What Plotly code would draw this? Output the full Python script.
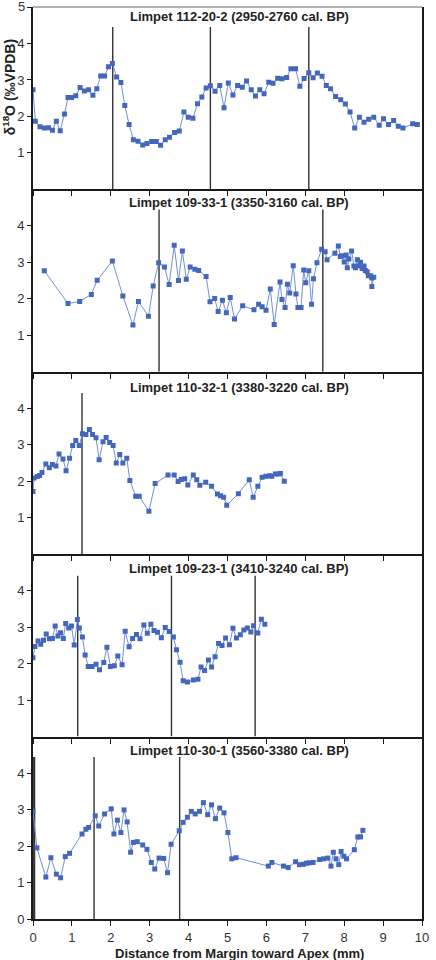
import plotly.graph_objects as go

# ---------------- data ----------------
titles = [
    "Limpet 112-20-2 (2950-2760 cal. BP)",
    "Limpet 109-33-1 (3350-3160 cal. BP)",
    "Limpet 110-32-1 (3380-3220 cal. BP)",
    "Limpet 109-23-1 (3410-3240 cal. BP)",
    "Limpet 110-30-1 (3560-3380 cal. BP)",
]

x1 = [0.0, 0.06, 0.18, 0.29, 0.40, 0.50, 0.60, 0.70, 0.81, 0.90, 0.99, 1.10, 1.21, 1.32, 1.43, 1.54,
      1.64, 1.74, 1.84, 1.94, 2.04, 2.15, 2.26, 2.36, 2.47, 2.58, 2.70, 2.82, 2.93, 3.05, 3.17, 3.28,
      3.40, 3.51, 3.64, 3.76, 3.88, 3.99, 4.11, 4.23, 4.34, 4.45, 4.56, 4.68, 4.80, 4.91, 5.02, 5.14,
      5.26, 5.38, 5.49, 5.61, 5.72, 5.83, 5.94, 6.06, 6.17, 6.29, 6.40, 6.52, 6.63, 6.75, 6.86, 6.97,
      7.09, 7.20, 7.31, 7.43, 7.54, 7.65, 7.78, 7.91, 8.03, 8.15, 8.27, 8.39, 8.51, 8.63, 8.76, 8.90,
      9.01, 9.14, 9.27, 9.39, 9.51, 9.76, 9.88]
y1 = [2.73, 1.87, 1.72, 1.68, 1.69, 1.62, 1.87, 1.61, 2.07, 2.52, 2.52, 2.57, 2.79, 2.70, 2.73, 2.58,
      2.76, 3.11, 3.11, 3.36, 3.45, 3.08, 2.93, 2.30, 1.78, 1.36, 1.32, 1.22, 1.26, 1.31, 1.31, 1.21,
      1.36, 1.43, 1.56, 1.60, 2.12, 1.98, 1.95, 2.35, 2.53, 2.78, 2.84, 2.69, 2.85, 2.24, 2.92, 2.59,
      2.85, 2.80, 2.97, 2.73, 2.56, 2.73, 2.62, 2.94, 2.91, 3.05, 3.03, 3.07, 3.31, 3.31, 2.83, 3.04,
      3.20, 3.06, 3.19, 3.10, 2.85, 2.76, 2.55, 2.46, 2.34, 2.12, 1.68, 1.98, 1.84, 1.92, 1.98, 1.76,
      1.94, 1.78, 1.89, 1.73, 1.68, 1.80, 1.78]

x2 = [0.29, 0.90, 1.20, 1.50, 1.65, 2.04, 2.31, 2.57, 2.71, 2.97, 3.09, 3.23, 3.38, 3.50, 3.63, 3.74,
      3.84, 3.94, 4.04, 4.16, 4.26, 4.45, 4.55, 4.67, 4.76, 4.87, 4.97, 5.07, 5.18, 5.39, 5.68, 5.80,
      5.89, 5.99, 6.10, 6.20, 6.35, 6.40, 6.48, 6.54, 6.60, 6.69, 6.76, 6.81, 6.89, 6.96, 7.01, 7.09,
      7.16, 7.21, 7.30, 7.42, 7.51, 7.56, 7.76, 7.85, 7.90, 7.95, 8.00, 8.05, 8.08, 8.12, 8.19, 8.25,
      8.29, 8.34, 8.37, 8.42, 8.46, 8.51, 8.54, 8.59, 8.62, 8.68, 8.71, 8.71, 8.76]
y2 = [2.77, 1.87, 1.93, 2.12, 2.51, 3.04, 2.08, 1.28, 1.93, 1.52, 2.35, 2.99, 2.87, 2.39, 3.47, 2.50,
      3.31, 2.54, 2.87, 2.81, 2.78, 2.61, 1.92, 2.01, 1.65, 1.96, 1.62, 2.04, 1.45, 1.81, 1.70, 1.85,
      1.78, 1.69, 2.27, 1.30, 2.46, 1.98, 1.76, 2.40, 2.16, 2.91, 2.13, 1.76, 1.76, 2.79, 2.44, 2.77,
      1.85, 2.55, 2.99, 3.36, 3.29, 3.07, 3.25, 3.45, 3.16, 3.18, 3.01, 3.20, 2.85, 3.09, 3.31, 2.90,
      2.85, 3.07, 2.90, 3.00, 2.83, 2.90, 2.78, 2.74, 2.63, 2.63, 2.57, 2.34, 2.59]

x3 = [0.0, 0.03, 0.11, 0.17, 0.23, 0.33, 0.42, 0.50, 0.59, 0.67, 0.77, 0.85, 0.94, 1.02, 1.10, 1.19,
      1.27, 1.36, 1.45, 1.53, 1.62, 1.70, 1.80, 1.88, 1.97, 2.06, 2.14, 2.23, 2.31, 2.41, 2.49, 2.64,
      2.73, 2.98, 3.14, 3.47, 3.63, 3.73, 3.81, 3.90, 3.98, 4.12, 4.21, 4.29, 4.44, 4.59, 4.74, 4.82,
      4.90, 4.98, 5.28, 5.56, 5.66, 5.78, 5.89, 5.99, 6.09, 6.14, 6.23, 6.31, 6.36, 6.46]
y3 = [1.72, 2.09, 2.13, 2.16, 2.24, 2.47, 2.37, 2.46, 2.42, 2.75, 2.61, 2.29, 2.63, 2.98, 3.12, 2.98,
      3.30, 3.28, 3.42, 3.28, 3.19, 2.59, 3.08, 3.20, 3.06, 2.98, 2.50, 2.73, 2.50, 2.63, 2.02, 1.59,
      1.59, 1.18, 1.94, 2.17, 2.17, 1.99, 2.05, 2.07, 1.90, 2.17, 2.04, 1.89, 1.97, 1.86, 1.65, 1.60,
      1.56, 1.34, 1.66, 2.04, 1.56, 1.86, 2.11, 2.14, 2.15, 2.14, 2.20, 2.20, 2.21, 2.00]

x4 = [0.0, 0.05, 0.13, 0.20, 0.27, 0.34, 0.42, 0.50, 0.57, 0.64, 0.71, 0.78, 0.84, 0.92, 0.99, 1.06,
      1.14, 1.19, 1.27, 1.34, 1.42, 1.52, 1.62, 1.71, 1.82, 1.90, 1.99, 2.09, 2.18, 2.29, 2.37, 2.47,
      2.56, 2.66, 2.75, 2.85, 2.94, 3.03, 3.11, 3.20, 3.30, 3.40, 3.50, 3.61, 3.69, 3.78, 3.86, 3.97,
      4.12, 4.24, 4.32, 4.41, 4.51, 4.59, 4.68, 4.77, 4.86, 4.95, 5.05, 5.14, 5.23, 5.33, 5.42, 5.51,
      5.60, 5.67, 5.78, 5.87, 5.96]
y4 = [2.16, 2.47, 2.62, 2.53, 2.64, 2.81, 2.68, 2.69, 3.03, 2.76, 2.85, 2.69, 3.10, 2.98, 3.03, 2.51,
      3.21, 2.98, 2.73, 2.24, 1.92, 1.92, 1.98, 1.83, 2.03, 2.45, 1.92, 1.94, 2.21, 1.97, 2.89, 2.46,
      2.69, 2.80, 2.68, 3.06, 2.83, 3.08, 2.91, 2.86, 2.71, 2.99, 2.88, 2.73, 2.38, 2.04, 1.53, 1.50,
      1.55, 1.57, 1.91, 1.81, 2.10, 1.91, 2.19, 2.55, 2.50, 2.70, 2.52, 2.97, 2.70, 2.79, 2.92, 2.98,
      2.87, 3.04, 2.84, 3.22, 3.08]

x5 = [0.0, 0.10, 0.33, 0.46, 0.60, 0.71, 0.83, 0.94, 1.26, 1.36, 1.43, 1.60, 1.69, 1.84, 2.01, 2.08,
      2.17, 2.26, 2.34, 2.42, 2.51, 2.58, 2.68, 2.82, 2.93, 3.04, 3.13, 3.24, 3.36, 3.46, 3.55, 3.76,
      3.86, 3.97, 4.07, 4.17, 4.28, 4.38, 4.49, 4.59, 4.69, 4.80, 4.91, 5.01, 5.11, 5.22, 6.05, 6.14,
      6.44, 6.56, 6.75, 6.85, 6.95, 7.03, 7.10, 7.20, 7.37, 7.47, 7.58, 7.66, 7.72, 7.79, 7.86, 7.92,
      7.99, 8.06, 8.26, 8.35, 8.42, 8.48]
y5 = [2.95, 1.95, 1.15, 1.68, 1.23, 1.13, 1.71, 1.80, 2.33, 2.46, 2.51, 2.83, 2.55, 2.88, 3.02, 2.33,
      2.71, 2.37, 2.99, 2.66, 1.83, 2.10, 2.12, 2.03, 1.91, 1.55, 1.37, 1.67, 1.66, 1.27, 2.05, 2.42,
      2.65, 2.79, 2.95, 2.88, 2.95, 3.19, 2.86, 3.13, 2.75, 3.04, 2.91, 2.37, 1.65, 1.68, 1.45, 1.55,
      1.45, 1.41, 1.57, 1.49, 1.50, 1.53, 1.54, 1.55, 1.63, 1.65, 1.67, 1.45, 1.83, 1.65, 1.49, 1.85,
      1.72, 1.65, 1.90, 2.25, 2.25, 2.43]

# vertical reference lines (mm) per panel
vlines = [
    [2.05, 4.56, 7.09],
    [3.24, 7.45],
    [1.26],
    [1.15, 3.56, 5.71],
    [0.03, 1.57, 3.77],
]
vline_top = [4.45, 4.45, 4.42, 4.41, 4.44]

y_ticks = [[1, 2, 3, 4, 5], [1, 2, 3, 4], [1, 2, 3, 4], [1, 2, 3, 4], [0, 1, 2, 3, 4]]
x_ticks = list(range(0, 11))
y_max_label = "5"

xs = [x1, x2, x3, x4, x5]
ys = [y1, y2, y3, y4, y5]

# ---------------- figure ----------------
W, H = 436, 960
ML, MR, MT, MB = 33, 9, 7, 41
PW, PH = W - ML - MR, H - MT - MB
fig = go.Figure()

marker_col = "#4466bb"
line_col = "#7190d8"
axis_col = "#1a1a1a"
FONT = "Liberation Sans, Arial, sans-serif"
n = 5
layout = {}
for i in range(n):
    k = "" if i == 0 else str(i + 1)
    xa, ya = "x" + k, "y" + k
    for v in vlines[i]:
        fig.add_trace(go.Scatter(
            x=[v, v], y=[0, vline_top[i]], mode="lines",
            line=dict(color="#333333", width=2.2 if v < 0.1 else 1.4),
            xaxis=xa, yaxis=ya, showlegend=False, hoverinfo="skip"))
    fig.add_trace(go.Scatter(
        x=xs[i], y=ys[i], mode="lines+markers",
        line=dict(color=line_col, width=1),
        marker=dict(symbol="square", size=5, color=marker_col),
        xaxis=xa, yaxis=ya, showlegend=False))
    top = 1 - i / n
    bot = 1 - (i + 1) / n
    layout["xaxis" + k] = dict(
        domain=[0, 1], anchor=ya, range=[0, 10], tickvals=x_ticks,
        showticklabels=(i == n - 1), ticks="outside", ticklen=5, tickwidth=1.3,
        tickcolor=axis_col, showline=True, linecolor=axis_col, linewidth=2,
        showgrid=False, zeroline=False,
        tickfont=dict(family=FONT, size=13, color="#333333"),
    )
    layout["yaxis" + k] = dict(
        domain=[bot, top], anchor=xa, range=[0, 5], tickvals=y_ticks[i],
        ticktext=[str(t) if t != 5 else "" for t in y_ticks[i]],
        ticks="outside", ticklen=4, tickwidth=1.3, tickcolor=axis_col,
        showline=True, linecolor=axis_col, linewidth=2, mirror=True,
        showgrid=False, zeroline=False,
        tickfont=dict(family=FONT, size=13, color="#333333"),
    )

fig.update_layout(**layout)

title_y = [4.73, 4.64, 4.57, 4.61, 4.62]
anns = []
for i in range(n):
    k = "" if i == 0 else str(i + 1)
    anns.append(dict(
        x=5.3, y=title_y[i], xref="x" + k, yref="y" + k, text="<b>%s</b>" % titles[i],
        showarrow=False, xanchor="center", yanchor="middle",
        font=dict(family=FONT, size=13, color="#222222")))

# top "5" label of the first panel (placed explicitly so it is not dropped at the edge)
anns.append(dict(
    x=-6 / PW, y=1.0, xref="paper", yref="paper", text=y_max_label,
    showarrow=False, xanchor="right", yanchor="middle", xshift=0, yshift=1,
    font=dict(family=FONT, size=13, color="#333333")))

anns.append(dict(
    x=(242 - ML) / PW, y=-(953 - (H - MB)) / PH,
    xref="paper", yref="paper", text="<b>Distance from Margin toward Apex (mm)</b>",
    showarrow=False, xanchor="center", yanchor="middle",
    font=dict(family=FONT, size=13, color="#222222")))
anns.append(dict(
    x=(9 - ML) / PW, y=1 - (87 - MT) / PH,
    xref="paper", yref="paper", text="<b>δ<sup>18</sup>O (‰VPDB)</b>", textangle=-90,
    showarrow=False, xanchor="center", yanchor="middle",
    font=dict(family=FONT, size=14, color="#222222")))

fig.update_layout(
    width=W, height=H,
    margin=dict(l=ML, r=MR, t=MT, b=MB),
    paper_bgcolor="white", plot_bgcolor="white",
    annotations=anns,
    shapes=[dict(type="line", xref="paper", yref="paper", x0=0, x1=1, y0=1, y1=1,
                 line=dict(color="#999999", width=1.5))],
)

fig.write_html("out.html")
